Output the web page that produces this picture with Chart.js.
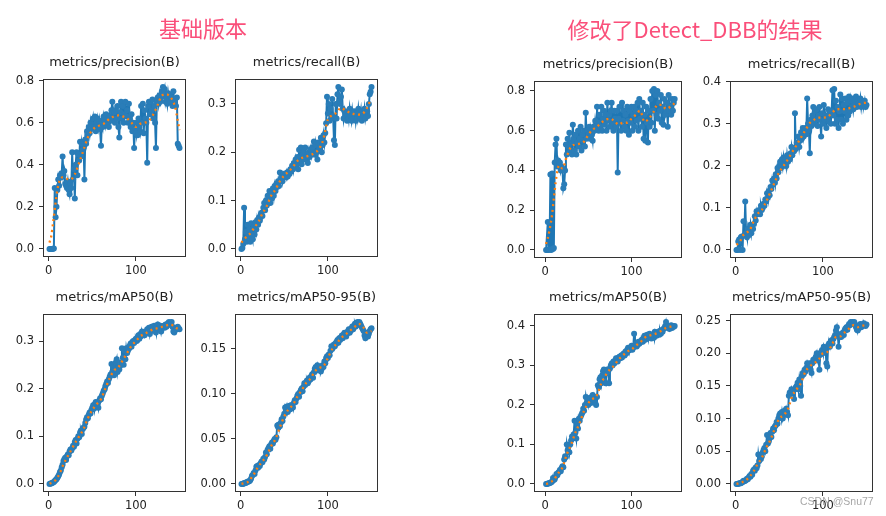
<!DOCTYPE html>
<html><head><meta charset="utf-8">
<script src="https://cdn.jsdelivr.net/npm/chart.js@4.4.1/dist/chart.umd.min.js"></script>
<style>
html,body{margin:0;padding:0;background:#fff;}
#root{position:relative;width:886px;height:516px;overflow:hidden;background:#fff;}
canvas{position:absolute;}
.ttl{position:absolute;text-align:center;font-family:"DejaVu Sans";font-size:13px;line-height:16px;color:#222;white-space:nowrap;}
.big{position:absolute;font-family:"Noto Sans CJK SC";font-size:22px;line-height:30px;color:#fa4f7a;white-space:nowrap;transform:translateX(-50%);}
.wm{position:absolute;font-family:"Liberation Sans";font-size:10.5px;line-height:12px;color:rgba(150,150,150,0.85);white-space:nowrap;z-index:5;}
</style></head>
<body><div id="root"></div>
<script>
// ---------------- data ----------------
const EPOCHS = Array.from({length:150},(_,i)=>i+1);
const SMOOTH_EPOCHS = [1,3,5,8,10,13,16,20,25,30,35,40,45,50,55,60,65,70,75,80,85,90,95,100,105,110,115,120,125,130,135,140,145,148,150];

const GROUP_TITLES = ['基础版本','修改了Detect_DBB的结果'];
const METRIC_TITLES = ['metrics/precision(B)','metrics/recall(B)','metrics/mAP50(B)','metrics/mAP50-95(B)'];
const X_TICKS = [0,100];
const Y_TICKS_LP = [0,0.2,0.4,0.6,0.8];
const Y_TICKS_LR = [0,0.1,0.2,0.3];
const Y_TICKS_LM50 = [0,0.1,0.2,0.3];
const Y_TICKS_LM95 = [0,0.05,0.10,0.15];
const Y_TICKS_RP = [0,0.2,0.4,0.6,0.8];
const Y_TICKS_RR = [0,0.1,0.2,0.3,0.4];
const Y_TICKS_RM50 = [0,0.1,0.2,0.3,0.4];
const Y_TICKS_RM95 = [0,0.05,0.10,0.15,0.20,0.25];

// base version
const L_PRECISION = [
0.000,0.000,0.000,0.000,0.001,0.002,0.290,0.150,0.200,0.280,
0.330,0.300,0.350,0.340,0.360,0.440,0.350,0.370,0.310,0.300,
0.290,0.320,0.280,0.260,0.310,0.290,0.460,0.330,0.380,0.240,
0.400,0.460,0.350,0.450,0.420,0.510,0.440,0.500,0.470,0.510,
0.330,0.520,0.500,0.560,0.540,0.580,0.550,0.600,0.570,0.590,
0.620,0.580,0.630,0.560,0.600,0.620,0.580,0.610,0.570,0.490,
0.600,0.580,0.630,0.610,0.590,0.640,0.600,0.620,0.580,0.630,
0.610,0.660,0.700,0.620,0.650,0.600,0.660,0.620,0.680,0.580,
0.530,0.650,0.700,0.620,0.680,0.600,0.640,0.700,0.630,0.660,
0.600,0.690,0.620,0.580,0.640,0.560,0.600,0.480,0.570,0.550,
0.600,0.540,0.620,0.580,0.560,0.680,0.600,0.690,0.550,0.660,
0.620,0.600,0.410,0.680,0.700,0.640,0.700,0.660,0.710,0.620,
0.680,0.600,0.480,0.700,0.720,0.690,0.730,0.700,0.720,0.750,
0.770,0.740,0.760,0.700,0.720,0.690,0.740,0.710,0.730,0.700,
0.720,0.680,0.750,0.700,0.710,0.680,0.720,0.500,0.490,0.480];
const L_PRECISION_SMOOTH = [0.03,0.06,0.12,0.22,0.28,0.33,0.34,0.335,0.33,0.355,0.41,0.47,0.53,0.565,0.58,0.59,0.60,0.62,0.63,0.635,0.63,0.62,0.60,0.58,0.595,0.60,0.61,0.64,0.685,0.73,0.735,0.72,0.675,0.61,0.565];

const L_RECALL = [
0.000,0.002,0.010,0.085,0.020,0.035,0.015,0.050,0.025,0.040,
0.015,0.053,0.030,0.020,0.045,0.030,0.055,0.040,0.060,0.050,
0.065,0.058,0.070,0.075,0.068,0.085,0.095,0.080,0.100,0.090,
0.110,0.100,0.120,0.095,0.115,0.105,0.125,0.110,0.130,0.120,
0.135,0.128,0.140,0.130,0.158,0.145,0.150,0.140,0.155,0.150,
0.152,0.148,0.158,0.150,0.160,0.155,0.165,0.160,0.172,0.165,
0.178,0.170,0.185,0.175,0.190,0.165,0.205,0.180,0.210,0.175,
0.195,0.200,0.185,0.210,0.190,0.195,0.178,0.200,0.190,0.205,
0.195,0.210,0.200,0.222,0.195,0.215,0.200,0.185,0.220,0.205,
0.210,0.230,0.200,0.215,0.235,0.220,0.240,0.260,0.315,0.280,
0.300,0.265,0.290,0.270,0.310,0.275,0.225,0.215,0.300,0.270,
0.320,0.335,0.305,0.300,0.315,0.330,0.290,0.270,0.285,0.275,
0.280,0.265,0.285,0.270,0.290,0.275,0.265,0.285,0.270,0.280,
0.285,0.265,0.280,0.270,0.290,0.275,0.270,0.285,0.265,0.280,
0.275,0.290,0.270,0.280,0.285,0.275,0.300,0.320,0.325,0.335];
const L_RECALL_SMOOTH = [0.013,0.018,0.022,0.027,0.030,0.037,0.045,0.055,0.073,0.089,0.110,0.123,0.140,0.152,0.160,0.170,0.182,0.188,0.191,0.194,0.199,0.207,0.228,0.268,0.276,0.282,0.292,0.287,0.282,0.279,0.278,0.280,0.292,0.304,0.310];

const L_MAP50 = [
0.000,0.001,0.001,0.002,0.003,0.004,0.006,0.008,0.010,0.013,
0.016,0.020,0.025,0.028,0.035,0.040,0.048,0.052,0.055,0.050,
0.058,0.062,0.060,0.068,0.072,0.070,0.075,0.080,0.078,0.088,
0.092,0.085,0.095,0.100,0.098,0.108,0.112,0.105,0.115,0.118,
0.120,0.128,0.135,0.140,0.138,0.145,0.150,0.148,0.155,0.160,
0.165,0.158,0.168,0.172,0.165,0.170,0.160,0.175,0.180,0.178,
0.185,0.190,0.195,0.198,0.205,0.210,0.215,0.212,0.220,0.225,
0.230,0.252,0.235,0.245,0.228,0.240,0.255,0.262,0.235,0.245,
0.240,0.248,0.255,0.285,0.265,0.250,0.280,0.262,0.285,0.275,
0.280,0.285,0.290,0.295,0.288,0.298,0.300,0.296,0.302,0.305,
0.300,0.308,0.312,0.305,0.315,0.310,0.320,0.315,0.318,0.312,
0.320,0.318,0.325,0.322,0.328,0.315,0.325,0.330,0.322,0.328,
0.332,0.325,0.318,0.330,0.335,0.325,0.328,0.332,0.320,0.330,
0.330,0.332,0.328,0.335,0.330,0.333,0.338,0.340,0.335,0.338,
0.340,0.330,0.320,0.318,0.325,0.328,0.325,0.330,0.327,0.325];
const L_MAP50_SMOOTH = [0.001,0.002,0.004,0.008,0.013,0.023,0.037,0.052,0.068,0.085,0.100,0.115,0.138,0.155,0.167,0.178,0.200,0.222,0.238,0.245,0.260,0.275,0.290,0.300,0.310,0.315,0.320,0.325,0.327,0.330,0.333,0.335,0.328,0.326,0.325];

const L_MAP5095 = [
0.000,0.000,0.000,0.001,0.001,0.001,0.002,0.002,0.003,0.003,
0.004,0.006,0.009,0.010,0.012,0.011,0.015,0.019,0.020,0.018,
0.021,0.020,0.023,0.025,0.024,0.028,0.027,0.030,0.035,0.033,
0.038,0.040,0.042,0.039,0.044,0.046,0.045,0.048,0.050,0.049,
0.052,0.065,0.063,0.066,0.064,0.068,0.072,0.070,0.075,0.078,
0.085,0.082,0.086,0.080,0.084,0.087,0.083,0.086,0.088,0.085,
0.090,0.093,0.091,0.095,0.098,0.100,0.097,0.102,0.104,0.106,
0.103,0.108,0.112,0.110,0.113,0.115,0.112,0.114,0.118,0.116,
0.120,0.122,0.118,0.124,0.128,0.130,0.126,0.132,0.129,0.127,
0.130,0.125,0.128,0.132,0.130,0.136,0.134,0.140,0.142,0.140,
0.144,0.143,0.148,0.153,0.150,0.152,0.155,0.153,0.156,0.158,
0.160,0.157,0.162,0.160,0.163,0.165,0.162,0.166,0.168,0.165,
0.164,0.167,0.170,0.172,0.168,0.170,0.173,0.175,0.172,0.176,
0.178,0.175,0.179,0.180,0.177,0.180,0.178,0.176,0.174,0.172,
0.170,0.165,0.162,0.166,0.168,0.164,0.167,0.170,0.172,0.173];
const L_MAP5095_SMOOTH = [0.000,0.0005,0.001,0.002,0.003,0.008,0.012,0.019,0.025,0.032,0.042,0.050,0.063,0.075,0.083,0.088,0.097,0.104,0.112,0.117,0.125,0.129,0.131,0.140,0.150,0.156,0.162,0.166,0.170,0.174,0.178,0.175,0.168,0.169,0.170];

// Detect_DBB version
const R_PRECISION = [
0.000,0.000,0.140,0.000,0.002,0.380,0.000,0.385,0.005,0.010,
0.440,0.530,0.560,0.420,0.450,0.430,0.440,0.400,0.420,0.410,
0.310,0.330,0.400,0.530,0.480,0.560,0.520,0.590,0.500,0.540,
0.480,0.630,0.560,0.500,0.580,0.480,0.540,0.600,0.520,0.560,
0.620,0.500,0.580,0.550,0.600,0.520,0.690,0.560,0.600,0.580,
0.620,0.560,0.600,0.580,0.550,0.620,0.600,0.650,0.620,0.720,
0.640,0.600,0.680,0.620,0.720,0.600,0.660,0.700,0.630,0.680,
0.600,0.740,0.650,0.680,0.620,0.700,0.740,0.640,0.600,0.700,
0.660,0.620,0.700,0.390,0.660,0.720,0.640,0.600,0.740,0.650,
0.700,0.620,0.680,0.600,0.720,0.650,0.580,0.700,0.640,0.720,
0.600,0.680,0.720,0.620,0.700,0.650,0.740,0.600,0.760,0.660,
0.700,0.620,0.740,0.560,0.680,0.550,0.720,0.640,0.540,0.700,
0.620,0.760,0.640,0.800,0.700,0.810,0.600,0.780,0.680,0.800,
0.660,0.740,0.700,0.780,0.640,0.720,0.630,0.760,0.680,0.700,
0.740,0.620,0.780,0.700,0.720,0.680,0.760,0.700,0.740,0.760];
const R_PRECISION_SMOOTH = [0.03,0.06,0.10,0.18,0.26,0.37,0.425,0.41,0.47,0.52,0.53,0.535,0.545,0.58,0.605,0.62,0.64,0.655,0.66,0.65,0.63,0.64,0.64,0.66,0.68,0.70,0.645,0.66,0.69,0.73,0.73,0.71,0.72,0.73,0.74];

const R_RECALL = [
0.000,0.000,0.020,0.025,0.000,0.030,0.032,0.000,0.068,0.035,
0.115,0.040,0.030,0.050,0.035,0.045,0.060,0.040,0.055,0.050,
0.062,0.080,0.070,0.092,0.085,0.090,0.095,0.085,0.105,0.095,
0.100,0.110,0.105,0.120,0.115,0.135,0.125,0.140,0.130,0.150,
0.145,0.165,0.155,0.170,0.160,0.180,0.170,0.195,0.185,0.200,
0.210,0.195,0.215,0.200,0.220,0.205,0.215,0.200,0.225,0.210,
0.220,0.215,0.230,0.245,0.225,0.240,0.235,0.325,0.240,0.255,
0.250,0.270,0.245,0.260,0.280,0.265,0.290,0.270,0.285,0.290,
0.275,0.360,0.300,0.285,0.230,0.310,0.295,0.320,0.340,0.300,
0.330,0.310,0.335,0.295,0.320,0.340,0.310,0.270,0.325,0.300,
0.345,0.310,0.320,0.290,0.315,0.335,0.305,0.325,0.300,0.330,
0.380,0.320,0.383,0.300,0.355,0.310,0.340,0.290,0.330,0.370,
0.310,0.360,0.300,0.345,0.330,0.360,0.310,0.350,0.320,0.365,
0.330,0.355,0.340,0.360,0.335,0.350,0.345,0.365,0.340,0.355,
0.350,0.345,0.360,0.340,0.355,0.350,0.345,0.355,0.340,0.345];
const R_RECALL_SMOOTH = [0.012,0.016,0.020,0.033,0.038,0.042,0.046,0.065,0.085,0.095,0.115,0.138,0.162,0.185,0.200,0.216,0.233,0.250,0.268,0.285,0.302,0.310,0.315,0.315,0.316,0.325,0.334,0.335,0.335,0.337,0.340,0.345,0.349,0.350,0.350];

const R_MAP50 = [
0.000,0.000,0.001,0.001,0.002,0.003,0.004,0.006,0.015,0.010,
0.012,0.018,0.025,0.022,0.028,0.030,0.035,0.032,0.040,0.045,
0.042,0.062,0.070,0.068,0.100,0.085,0.095,0.080,0.100,0.110,
0.120,0.115,0.125,0.160,0.130,0.115,0.150,0.140,0.165,0.160,
0.170,0.175,0.180,0.190,0.185,0.200,0.220,0.205,0.215,0.200,
0.210,0.218,0.205,0.220,0.225,0.212,0.220,0.205,0.200,0.220,
0.250,0.245,0.265,0.270,0.255,0.275,0.285,0.290,0.260,0.255,
0.280,0.290,0.285,0.255,0.292,0.300,0.305,0.300,0.310,0.305,
0.312,0.318,0.315,0.310,0.320,0.322,0.318,0.325,0.320,0.328,
0.330,0.325,0.335,0.330,0.340,0.345,0.338,0.340,0.345,0.350,
0.340,0.345,0.380,0.350,0.355,0.348,0.352,0.360,0.355,0.358,
0.362,0.365,0.360,0.370,0.375,0.365,0.372,0.378,0.370,0.375,
0.380,0.372,0.368,0.375,0.378,0.370,0.385,0.380,0.375,0.382,
0.385,0.378,0.388,0.380,0.390,0.385,0.392,0.395,0.400,0.410,
0.398,0.395,0.400,0.392,0.398,0.402,0.395,0.400,0.398,0.400];
const R_MAP50_SMOOTH = [0.000,0.001,0.003,0.007,0.010,0.020,0.030,0.042,0.075,0.100,0.130,0.155,0.185,0.205,0.215,0.225,0.255,0.275,0.290,0.300,0.315,0.325,0.335,0.340,0.350,0.358,0.370,0.375,0.378,0.382,0.388,0.395,0.398,0.399,0.400];

const R_MAP5095 = [
0.000,0.000,0.000,0.001,0.001,0.001,0.002,0.003,0.005,0.004,
0.005,0.006,0.008,0.007,0.010,0.012,0.011,0.015,0.014,0.020,
0.022,0.020,0.025,0.024,0.028,0.045,0.035,0.040,0.038,0.042,
0.048,0.052,0.055,0.050,0.060,0.075,0.062,0.065,0.070,0.078,
0.072,0.080,0.085,0.082,0.088,0.090,0.095,0.092,0.100,0.105,
0.108,0.102,0.110,0.100,0.105,0.112,0.108,0.115,0.110,0.105,
0.135,0.140,0.138,0.145,0.140,0.142,0.130,0.145,0.148,0.150,
0.155,0.145,0.160,0.150,0.135,0.165,0.170,0.168,0.175,0.172,
0.178,0.185,0.180,0.182,0.185,0.175,0.170,0.185,0.190,0.188,
0.192,0.195,0.200,0.190,0.195,0.175,0.198,0.202,0.205,0.200,
0.210,0.205,0.208,0.185,0.180,0.212,0.215,0.210,0.218,0.220,
0.215,0.222,0.225,0.228,0.235,0.240,0.230,0.210,0.225,0.228,
0.225,0.230,0.232,0.228,0.235,0.238,0.240,0.236,0.242,0.245,
0.243,0.248,0.245,0.248,0.246,0.248,0.244,0.240,0.236,0.235,
0.238,0.242,0.245,0.240,0.242,0.244,0.246,0.243,0.242,0.244];
const R_MAP5095_SMOOTH = [0.000,0.0005,0.001,0.003,0.004,0.007,0.011,0.018,0.030,0.040,0.055,0.068,0.085,0.100,0.105,0.115,0.135,0.145,0.155,0.172,0.180,0.185,0.190,0.200,0.202,0.212,0.225,0.226,0.232,0.238,0.243,0.240,0.242,0.243,0.243];

// ---------------- layout ----------------
const root = document.getElementById('root');
const PADL = 40, PADT = 6, PADR = 6, PADB = 24;
const XR_STD = [-6.45, 157.45];
const XR_RC1 = [-13, 158.5];

const plots = [
  {t:0, y:L_PRECISION, s:L_PRECISION_SMOOTH, ticks:Y_TICKS_LP, dec:1, box:[43,73,186,257], xr:XR_STD},
  {t:1, y:L_RECALL, s:L_RECALL_SMOOTH, ticks:Y_TICKS_LR, dec:1, box:[235,73,378,257], xr:XR_STD},
  {t:2, y:L_MAP50, s:L_MAP50_SMOOTH, ticks:Y_TICKS_LM50, dec:1, box:[43,308,186,492], xr:XR_STD},
  {t:3, y:L_MAP5095, s:L_MAP5095_SMOOTH, ticks:Y_TICKS_LM95, dec:2, box:[235,308,378,492], xr:XR_STD},
  {t:0, y:R_PRECISION, s:R_PRECISION_SMOOTH, ticks:Y_TICKS_RP, dec:1, box:[534,75,682,258], xr:XR_RC1},
  {t:1, y:R_RECALL, s:R_RECALL_SMOOTH, ticks:Y_TICKS_RR, dec:1, box:[730,75,873,258], xr:XR_STD},
  {t:2, y:R_MAP50, s:R_MAP50_SMOOTH, ticks:Y_TICKS_RM50, dec:1, box:[534,308,682,492], xr:XR_RC1},
  {t:3, y:R_MAP5095, s:R_MAP5095_SMOOTH, ticks:Y_TICKS_RM95, dec:2, box:[730,308,873,492], xr:XR_STD}
];

const boxPlugin = {
  id:'frame',
  afterDraw(chart){
    const a = chart.chartArea, c = chart.ctx;
    c.save();
    c.strokeStyle = '#333'; c.lineWidth = 1;
    const l = Math.round(a.left)+0.5, t = Math.round(a.top)+0.5;
    const r = Math.round(a.right)-0.5, b = Math.round(a.bottom)-0.5;
    c.strokeRect(l, t, r-l, b-t);
    c.restore();
  }
};

function addText(cls, txt, left, top, width){
  const d = document.createElement('div');
  d.className = cls; d.textContent = txt;
  d.style.left = left+'px'; d.style.top = top+'px';
  if (width) d.style.width = width+'px';
  root.appendChild(d);
}

function makePlot(p){
  const [x0,y0,x1,y1] = p.box;
  const W = x1-x0+PADL+PADR, H = y1-y0+PADT+PADB;
  const cv = document.createElement('canvas');
  cv.width = W; cv.height = H;
  cv.style.left = (x0-PADL)+'px'; cv.style.top = (y0-PADT)+'px';
  cv.style.width = W+'px'; cv.style.height = H+'px';
  root.appendChild(cv);

  const all = p.y.concat(p.s);
  const lo = Math.min(...all), hi = Math.max(...all);
  const m = (hi-lo)*0.05;

  new Chart(cv, {
    type:'line',
    data:{
      datasets:[
        {label:'smooth', data:SMOOTH_EPOCHS.map((e,i)=>({x:e,y:p.s[i]})),
         borderColor:'#ff7f0e', borderWidth:2.3, borderDash:[2,3.5], pointRadius:0,
         cubicInterpolationMode:'monotone', fill:false, order:0},
        {label:'results', data:EPOCHS.map((e,i)=>({x:e,y:p.y[i]})),
         borderColor:'#1f77b4', backgroundColor:'#1f77b4', borderWidth:2,
         pointRadius:3, pointBorderWidth:0, pointBackgroundColor:'#2a7db8',
         fill:false, tension:0, order:1}
      ]
    },
    options:{
      responsive:false, animation:false, events:[],
      layout:{padding:{left:0, top:PADT, right:PADR, bottom:0}},
      plugins:{legend:{display:false}, tooltip:{enabled:false}, title:{display:false}},
      scales:{
        x:{type:'linear', min:p.xr[0], max:p.xr[1],
           afterFit(s){ s.height = PADB; },
           afterBuildTicks(s){ s.ticks = X_TICKS.map(v=>({value:v})); },
           ticks:{autoSkip:false, maxRotation:0, padding:3, color:'#222',
                  font:{family:'DejaVu Sans', size:11.5}, callback:v=>String(v)},
           grid:{drawOnChartArea:false, drawTicks:true, tickLength:4, color:'#333'},
           border:{display:false}},
        y:{type:'linear', min:lo-m, max:hi+m,
           afterFit(s){ s.width = PADL; },
           afterBuildTicks(s){ s.ticks = p.ticks.map(v=>({value:v})); },
           ticks:{autoSkip:false, padding:5, color:'#222',
                  font:{family:'DejaVu Sans', size:11.5}, callback:v=>Number(v).toFixed(p.dec)},
           grid:{drawOnChartArea:false, drawTicks:true, tickLength:4, color:'#333'},
           border:{display:false}}
      }
    },
    plugins:[boxPlugin]
  });

  addText('ttl', METRIC_TITLES[p.t], x0-20, y0-19, (x1-x0)+40);
}

plots.forEach(makePlot);
addText('big', GROUP_TITLES[0], 203, 12);
addText('big', GROUP_TITLES[1], 695, 13);
addText('wm', 'CSDN @Snu77', 800, 495);
</script>
</body></html>
